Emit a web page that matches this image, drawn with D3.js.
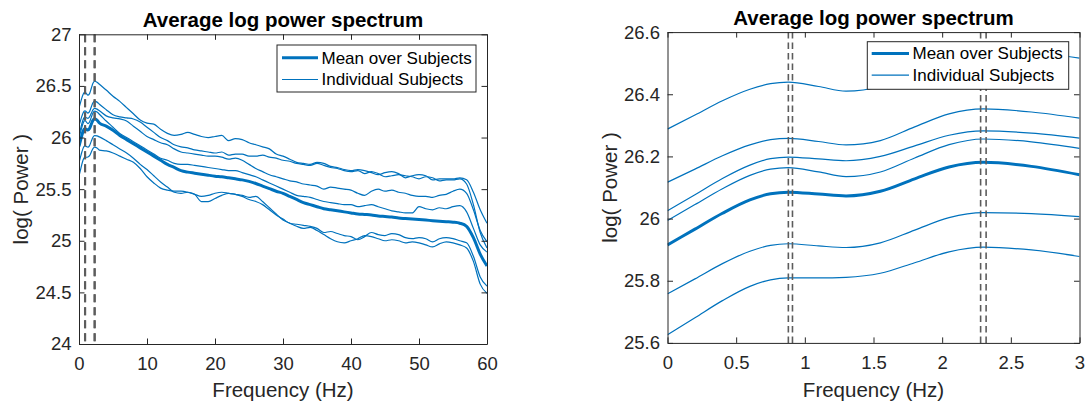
<!DOCTYPE html>
<html><head><meta charset="utf-8">
<script src="https://cdn.jsdelivr.net/npm/d3@7"></script>
<style>
html,body{margin:0;padding:0;background:#fff;}
svg{display:block;font-family:"Liberation Sans",Arial,Helvetica,sans-serif;}
</style></head><body>
<svg id="chart" width="1086" height="404"></svg>
<script>
// ---------- DATA ----------
const chartTitle = "Average log power spectrum";
const xLabel = "Frequency (Hz)";
const yLabel = "log( Power )";
const legendLabels = ["Mean over Subjects", "Individual Subjects"];

// low-frequency detail (0-3 Hz)
const freqZoom = [0, 0.2, 0.4, 0.6, 0.75, 0.88, 1.1, 1.3, 1.55, 1.8, 2.05, 2.3, 2.65, 3];
const zoomMean  = [25.915, 25.966, 26.017, 26.060, 26.080, 26.085, 26.079, 26.073, 26.088, 26.128, 26.166, 26.181, 26.168, 26.141];
const zoomSubj1 = [26.288, 26.333, 26.379, 26.416, 26.434, 26.439, 26.425, 26.410, 26.425, 26.475, 26.525, 26.545, 26.536, 26.516];
const zoomSubj2 = [26.117, 26.159, 26.202, 26.237, 26.254, 26.258, 26.248, 26.237, 26.251, 26.295, 26.337, 26.353, 26.343, 26.323];
const zoomSubj3 = [26.025, 26.077, 26.129, 26.172, 26.193, 26.198, 26.192, 26.186, 26.200, 26.234, 26.268, 26.282, 26.275, 26.259];
const zoomSubj4 = [25.994, 26.045, 26.096, 26.139, 26.159, 26.164, 26.150, 26.135, 26.150, 26.195, 26.238, 26.256, 26.247, 26.226];
const zoomSubj5 = [25.758, 25.806, 25.855, 25.895, 25.914, 25.919, 25.912, 25.907, 25.922, 25.963, 26.003, 26.019, 26.016, 26.006];
const zoomSubj6 = [25.626, 25.681, 25.736, 25.782, 25.803, 25.809, 25.809, 25.811, 25.824, 25.858, 25.893, 25.908, 25.899, 25.878];

// broadband (4-60 Hz)
const freqFull = [4,5,6,7,8,9,10,11,12,13,14,15,16,17,18,19,20,21,22,23,24,25,26,27,28,29,30,31,32,33,34,35,36,37,38,39,40,41,42,43,44,45,46,47,48,49,50,51,52,53,54,55,56,57,58,59,60];
const fullMean = [26.11,26.07,26.02,25.98,25.94,25.90,25.86,25.82,25.78,25.74,25.71,25.68,25.665,25.655,25.645,25.635,25.626,
  25.62,25.61,25.60,25.59,25.575,25.555,25.53,25.505,25.48,25.46,25.43,25.40,25.37,25.35,25.33,25.31,25.30,25.29,25.28,25.27,
  25.26,25.255,25.25,25.24,25.235,25.23,25.22,25.215,25.21,25.205,25.20,25.195,25.19,25.185,25.18,25.17,25.14,25.03,24.87,24.755];
const fullSubj1 = [26.46,26.40,26.35,26.29,26.23,26.17,26.14,26.13,26.08,26.04,26.02,26.03,26.05,26.03,26.01,26.00,26.01,
  26.02,25.97,25.99,25.98,25.95,25.93,25.91,25.89,25.84,25.82,25.79,25.76,25.75,25.74,25.76,25.75,25.72,25.71,25.69,25.68,
  25.69,25.68,25.66,25.64,25.66,25.67,25.65,25.61,25.63,25.64,25.63,25.59,25.60,25.60,25.60,25.61,25.59,25.47,25.30,25.17];
const fullSubj2 = [26.27,26.22,26.20,26.19,26.18,26.15,26.10,26.05,26.00,25.97,25.93,25.91,25.90,25.88,25.87,25.86,25.85,
  25.86,25.83,25.84,25.84,25.82,25.82,25.83,25.81,25.80,25.78,25.77,25.75,25.74,25.73,25.75,25.73,25.71,25.70,25.68,25.67,
  25.68,25.65,25.67,25.65,25.62,25.63,25.64,25.63,25.62,25.60,25.62,25.61,25.58,25.59,25.59,25.60,25.55,25.35,25.08,24.93];
const fullSubj3 = [26.21,26.19,26.18,26.16,26.11,26.06,26.01,25.98,25.95,25.93,25.89,25.86,25.85,25.84,25.83,25.82,25.82,
  25.81,25.79,25.80,25.78,25.74,25.70,25.67,25.64,25.62,25.60,25.58,25.57,25.55,25.54,25.53,25.50,25.52,25.51,25.50,25.49,
  25.46,25.44,25.48,25.50,25.48,25.49,25.47,25.46,25.44,25.43,25.43,25.42,25.44,25.45,25.48,25.50,25.46,25.30,25.10,24.99];
const fullSubj4 = [26.16,26.10,26.04,26.00,25.96,25.92,25.88,25.84,25.80,25.78,25.75,25.74,25.74,25.73,25.72,25.71,25.70,
  25.69,25.68,25.68,25.66,25.64,25.62,25.59,25.56,25.53,25.50,25.47,25.44,25.43,25.42,25.40,25.38,25.37,25.36,25.35,25.35,
  25.33,25.34,25.35,25.33,25.31,25.29,25.28,25.27,25.27,25.33,25.31,25.30,25.32,25.31,25.33,25.34,25.28,25.12,24.96,24.89];
const fullSubj5 = [25.97,25.93,25.89,25.85,25.80,25.74,25.69,25.63,25.57,25.52,25.47,25.46,25.47,25.45,25.43,25.44,25.46,
  25.47,25.46,25.45,25.43,25.40,25.38,25.35,25.30,25.25,25.21,25.17,25.16,25.15,25.14,25.12,25.08,25.09,25.07,25.05,25.04,
  25.01,25.04,25.08,25.06,25.05,25.07,25.06,25.03,25.02,25.03,25.02,24.99,25.02,25.03,25.02,25.00,24.98,24.85,24.65,24.56];
const fullSubj6 = [25.87,25.85,25.82,25.79,25.76,25.70,25.62,25.56,25.51,25.49,25.48,25.48,25.47,25.45,25.38,25.38,25.41,
  25.44,25.46,25.45,25.44,25.42,25.43,25.38,25.32,25.26,25.20,25.17,25.14,25.12,25.13,25.10,25.06,25.02,24.99,24.98,25.00,
  25.02,25.05,25.04,25.02,25.00,25.01,25.00,24.98,24.99,24.98,24.96,24.94,24.97,24.99,24.98,24.96,24.93,24.80,24.58,24.49];

// marker frequencies (dashed lines)
const markerFreqs = [0.88, 0.91, 2.28, 2.32];

// tick values
const leftXTicks = [0, 10, 20, 30, 40, 50, 60];
const leftYTicks = [24, 24.5, 25, 25.5, 26, 26.5, 27];
const rightXTicks = [0, 0.5, 1, 1.5, 2, 2.5, 3];
const rightYTicks = [25.6, 25.8, 26, 26.2, 26.4, 26.6];

// ---------- DRAW ----------
const svg = d3.select("#chart");
const BLUE = "#0072BD", INK = "#262626", DASHC = "#5c5c5c";

const zoomSubjects = [zoomSubj1, zoomSubj2, zoomSubj3, zoomSubj4, zoomSubj5, zoomSubj6];
const fullSubjects = [fullSubj1, fullSubj2, fullSubj3, fullSubj4, fullSubj5, fullSubj6];

const leftFreq = freqZoom.concat(freqFull);
const leftSubjects = zoomSubjects.map((s, i) => s.concat(fullSubjects[i]));
const leftMean = zoomMean.concat(fullMean);

function panel(cfg, idx) {
  const x = d3.scaleLinear().domain(cfg.xDomain).range([cfg.left, cfg.right]);
  const y = d3.scaleLinear().domain(cfg.yDomain).range([cfg.bottom, cfg.top]);
  const g = svg.append("g");
  const cid = "clip" + idx;
  g.append("clipPath").attr("id", cid).append("rect")
    .attr("x", cfg.left).attr("y", cfg.top)
    .attr("width", cfg.right - cfg.left).attr("height", cfg.bottom - cfg.top);
  const plot = g.append("g").attr("clip-path", `url(#${cid})`);
  const line = d3.line().x(d => x(d[0])).y(d => y(d[1])).curve(d3.curveMonotoneX);

  cfg.subjects.forEach(s => {
    plot.append("path").datum(d3.zip(cfg.freq, s)).attr("d", line)
      .attr("fill", "none").attr("stroke", BLUE).attr("stroke-width", 1.2);
  });
  plot.append("path").datum(d3.zip(cfg.freq, cfg.mean)).attr("d", line)
    .attr("fill", "none").attr("stroke", BLUE).attr("stroke-width", 3);

  markerFreqs.forEach(f => {
    plot.append("line").attr("x1", x(f)).attr("x2", x(f))
      .attr("y1", cfg.top).attr("y2", cfg.bottom)
      .attr("stroke", DASHC).attr("stroke-width", cfg.dashW)
      .attr("stroke-dasharray", cfg.dash);
  });

  const TS = 5.5;
  const styleAxis = (sel, showText) => {
    sel.attr("font-size", null).attr("font-family", null);
    sel.select(".domain").attr("stroke", INK).attr("stroke-width", 1);
    sel.selectAll(".tick line").attr("stroke", INK).attr("stroke-width", 1);
    sel.selectAll(".tick text").attr("fill", INK).style("font-size", "18.5px");
    if (!showText) sel.selectAll(".tick text").remove();
  };
  g.append("g").attr("transform", `translate(0,${cfg.bottom})`)
    .call(d3.axisBottom(x).tickValues(cfg.xTicks).tickSize(-TS).tickSizeOuter(0).tickPadding(12.5).tickFormat(d => String(d)))
    .call(s => styleAxis(s, true));
  g.append("g").attr("transform", `translate(0,${cfg.top})`)
    .call(d3.axisTop(x).tickValues(cfg.xTicks).tickSize(-TS).tickSizeOuter(0).tickFormat(""))
    .call(s => styleAxis(s, false));
  g.append("g").attr("transform", `translate(${cfg.left},0)`)
    .call(d3.axisLeft(y).tickValues(cfg.yTicks).tickSize(-TS).tickSizeOuter(0).tickPadding(7.5).tickFormat(d => String(d)))
    .call(s => styleAxis(s, true));
  g.append("g").attr("transform", `translate(${cfg.right},0)`)
    .call(d3.axisRight(y).tickValues(cfg.yTicks).tickSize(-TS).tickSizeOuter(0).tickFormat(""))
    .call(s => styleAxis(s, false));

  const cx = (cfg.left + cfg.right) / 2;
  g.append("text").attr("x", cx).attr("y", cfg.top - 7.3)
    .attr("text-anchor", "middle").attr("font-weight", "bold")
    .style("font-size", "20.5px").attr("fill", "#000").text(chartTitle);
  g.append("text").attr("x", cx).attr("y", 396.5)
    .attr("text-anchor", "middle").style("font-size", "20.5px").attr("fill", INK).text(xLabel);
  g.append("text").attr("transform", `translate(${cfg.left - 51},${(cfg.top + cfg.bottom) / 2}) rotate(-90)`)
    .attr("text-anchor", "middle").style("font-size", "20.5px").attr("fill", INK).text(yLabel);

  // legend
  const L = cfg.legend;
  const lg = g.append("g");
  lg.append("rect").attr("x", L.x0).attr("y", L.y0).attr("width", L.x1 - L.x0).attr("height", L.y1 - L.y0)
    .attr("fill", "#fff").attr("stroke", INK).attr("stroke-width", 1);
  legendLabels.forEach((lab, i) => {
    const ry = L.rows[i];
    lg.append("line").attr("x1", L.lx0).attr("x2", L.lx1).attr("y1", ry).attr("y2", ry)
      .attr("stroke", BLUE).attr("stroke-width", i === 0 ? 3 : 1.2);
    lg.append("text").attr("x", L.tx).attr("y", ry).attr("dy", "0.35em")
      .style("font-size", "17px").attr("fill", "#000").text(lab);
  });
}

panel({
  left: 79, right: 487, top: 34.3, bottom: 344,
  xDomain: [0, 60], yDomain: [24, 27],
  xTicks: leftXTicks, yTicks: leftYTicks,
  freq: leftFreq, subjects: leftSubjects, mean: leftMean,
  dash: "8,5", dashW: 2,
  legend: {x0: 277, x1: 476, y0: 45, y1: 92, rows: [57.8, 79.5], lx0: 282, lx1: 318, tx: 321.5}
}, 0);

panel({
  left: 667.5, right: 1079.5, top: 32.1, bottom: 342.9,
  xDomain: [0, 3], yDomain: [25.6, 26.6],
  xTicks: rightXTicks, yTicks: rightYTicks,
  freq: freqZoom, subjects: zoomSubjects, mean: zoomMean,
  dash: "6.5,4", dashW: 1.6,
  legend: {x0: 867.3, x1: 1068.7, y0: 41.7, y1: 89.3, rows: [53.5, 75.2], lx0: 871.7, lx1: 909, tx: 912.5}
}, 1);
</script>
</body></html>
